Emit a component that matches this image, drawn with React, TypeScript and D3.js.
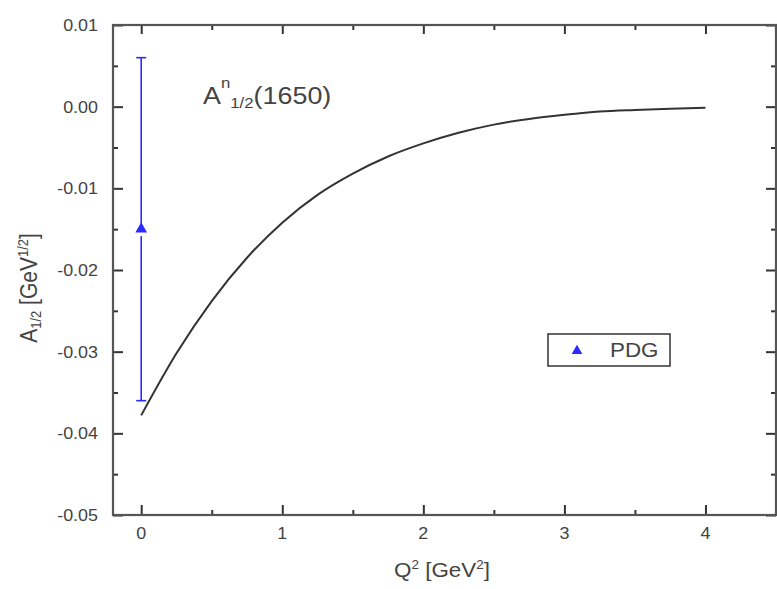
import React, { useEffect, useRef } from "react";
import * as d3 from "d3";

// curve
const qSquared = [0, 0.25, 0.5, 0.75, 1.0, 1.25, 1.5, 1.75, 2.0, 2.25, 2.5, 2.75, 3.0, 3.25, 3.5, 3.75, 4.0];
const amplitude = [-0.0378, -0.0302, -0.0238, -0.0185, -0.0142, -0.0108, -0.0082, -0.0061, -0.0045, -0.0032, -0.0022, -0.0015, -0.0010, -0.0006, -0.0004, -0.00025, -0.00012];

// PDG point
const pdgQ2 = [0];
const pdgValue = [-0.015];
const pdgError = [0.021];

const xMajor = [0, 1, 2, 3, 4];
const xMinor = [0.5, 1.5, 2.5, 3.5];
const yMajor = [0.01, 0.0, -0.01, -0.02, -0.03, -0.04, -0.05];
const yMinor = [0.005, -0.005, -0.015, -0.025, -0.035, -0.045];

const W = 777, H = 589;
const STRETCH = 1.12;

export default function App() {
  const svgRef = useRef<SVGSVGElement>(null);

  useEffect(() => {
    const svg = d3.select(svgRef.current);
    svg.selectAll("*").remove();

    const margin = { top: 25, right: 1, bottom: 74, left: 113 };
    const x = d3.scaleLinear().domain([-0.2, 4.5]).range([margin.left, W - margin.right]);
    const y = d3.scaleLinear().domain([-0.05, 0.01]).range([H - margin.bottom, margin.top]);
    const x0 = margin.left, x1 = W - margin.right, y0 = H - margin.bottom, y1 = margin.top;

    const txt = (px: number, py: number, anchor: string, size: number) =>
      svg.append("text")
        .attr("transform", `translate(${px},${py}) scale(${STRETCH},1)`)
        .attr("text-anchor", anchor)
        .attr("font-family", "Liberation Sans, Arial, sans-serif")
        .attr("font-size", size)
        .attr("fill", "#444");

    // ticks on all four sides, pointing inward
    const axes = [
      { a: d3.axisBottom(x), t: `translate(0,${y0})`, maj: xMajor, min: xMinor, len: 10 },
      { a: d3.axisTop(x), t: `translate(0,${y1})`, maj: xMajor, min: xMinor, len: 9 },
      { a: d3.axisLeft(y), t: `translate(${x0},0)`, maj: yMajor, min: yMinor, len: 10 },
      { a: d3.axisRight(y), t: `translate(${x1},0)`, maj: yMajor, min: yMinor, len: 10 },
    ];
    axes.forEach(({ a, t, maj, min, len }) => {
      [[maj, len], [min, 5]].forEach(([vals, l]: any) => {
        const g = svg.append("g").attr("transform", t)
          .call(a.tickValues(vals).tickSize(-l).tickFormat(() => ""));
        g.select(".domain").remove();
        g.selectAll("line").attr("stroke", "#333").attr("stroke-width", 2);
      });
    });

    // frame
    svg.append("rect")
      .attr("x", x0).attr("y", y1)
      .attr("width", x1 - x0).attr("height", y0 - y1)
      .attr("fill", "none").attr("stroke", "#555").attr("stroke-width", 2.2);

    // tick labels (plain hyphen minus, like the original)
    const fmtY = (v: number) => d3.format(".2f")(v).replace("\u2212", "-");
    xMajor.forEach(v => txt(x(v), y0 + 24, "middle", 16).text(d3.format("d")(v)));
    yMajor.forEach(v => txt(x0 - 15, y(v) + 6, "end", 16).text(fmtY(v)));

    // curve
    const pts = qSquared.map((q, i) => [q, amplitude[i]] as [number, number]);
    svg.append("path")
      .datum(pts)
      .attr("fill", "none")
      .attr("stroke", "#333")
      .attr("stroke-width", 2)
      .attr("d", d3.line<[number, number]>().x(d => x(d[0])).y(d => y(d[1])).curve(d3.curveMonotoneX));

    // PDG error bar
    const blue = "#2a2aff";
    const tri = d3.symbol().type(d3.symbolTriangle);
    pdgQ2.forEach((q, i) => {
      const cx = x(q), cy = y(pdgValue[i]);
      const hi = y(pdgValue[i] + pdgError[i]), lo = y(pdgValue[i] - pdgError[i]);
      const g = svg.append("g").attr("stroke", blue).attr("stroke-width", 1.6);
      g.append("line").attr("x1", cx).attr("x2", cx).attr("y1", hi).attr("y2", cy);
      g.append("line").attr("x1", cx).attr("x2", cx).attr("y1", cy + 7).attr("y2", lo);
      g.append("line").attr("x1", cx - 5).attr("x2", cx + 5).attr("y1", hi).attr("y2", hi);
      g.append("line").attr("x1", cx - 5).attr("x2", cx + 5).attr("y1", lo).attr("y2", lo);
      svg.append("path").attr("d", tri.size(60)()).attr("fill", blue)
        .attr("transform", `translate(${cx},${cy})`);
    });

    // legend
    svg.append("rect").attr("x", 548).attr("y", 334).attr("width", 122).attr("height", 32)
      .attr("fill", "white").attr("stroke", "#333").attr("stroke-width", 1.5);
    svg.append("path").attr("d", tri.size(50)()).attr("fill", blue)
      .attr("transform", "translate(577,351)");
    txt(610, 357, "start", 20).text("PDG");

    // annotation
    const ann = txt(203, 104, "start", 24);
    ann.append("tspan").text("A");
    ann.append("tspan").attr("font-size", 15).attr("dy", -16).text("n");
    ann.append("tspan").attr("font-size", 15).attr("dy", 20).text("1/2");
    ann.append("tspan").attr("dy", -4).text("(1650)");

    // x label
    const xl = txt(442, 577, "middle", 20);
    xl.append("tspan").text("Q");
    xl.append("tspan").attr("font-size", 12).attr("dy", -8).text("2");
    xl.append("tspan").attr("dy", 8).text(" [GeV");
    xl.append("tspan").attr("font-size", 12).attr("dy", -8).text("2");
    xl.append("tspan").attr("dy", 8).text("]");

    // y label
    const yl = svg.append("text")
      .attr("transform", `translate(37,288) rotate(-90) scale(1,${STRETCH})`)
      .attr("text-anchor", "middle")
      .attr("font-family", "Liberation Sans, Arial, sans-serif")
      .attr("font-size", 21)
      .attr("fill", "#444");
    yl.append("tspan").text("A");
    yl.append("tspan").attr("font-size", 13).attr("dy", 4).text("1/2");
    yl.append("tspan").attr("dy", -4).text(" [GeV");
    yl.append("tspan").attr("font-size", 13).attr("dy", -8).text("1/2");
    yl.append("tspan").attr("dy", 8).text("]");
  }, []);

  return (
    <svg ref={svgRef} width={W} height={H}
      style={{ position: "absolute", left: 0, top: 0, background: "white" }} />
  );
}
